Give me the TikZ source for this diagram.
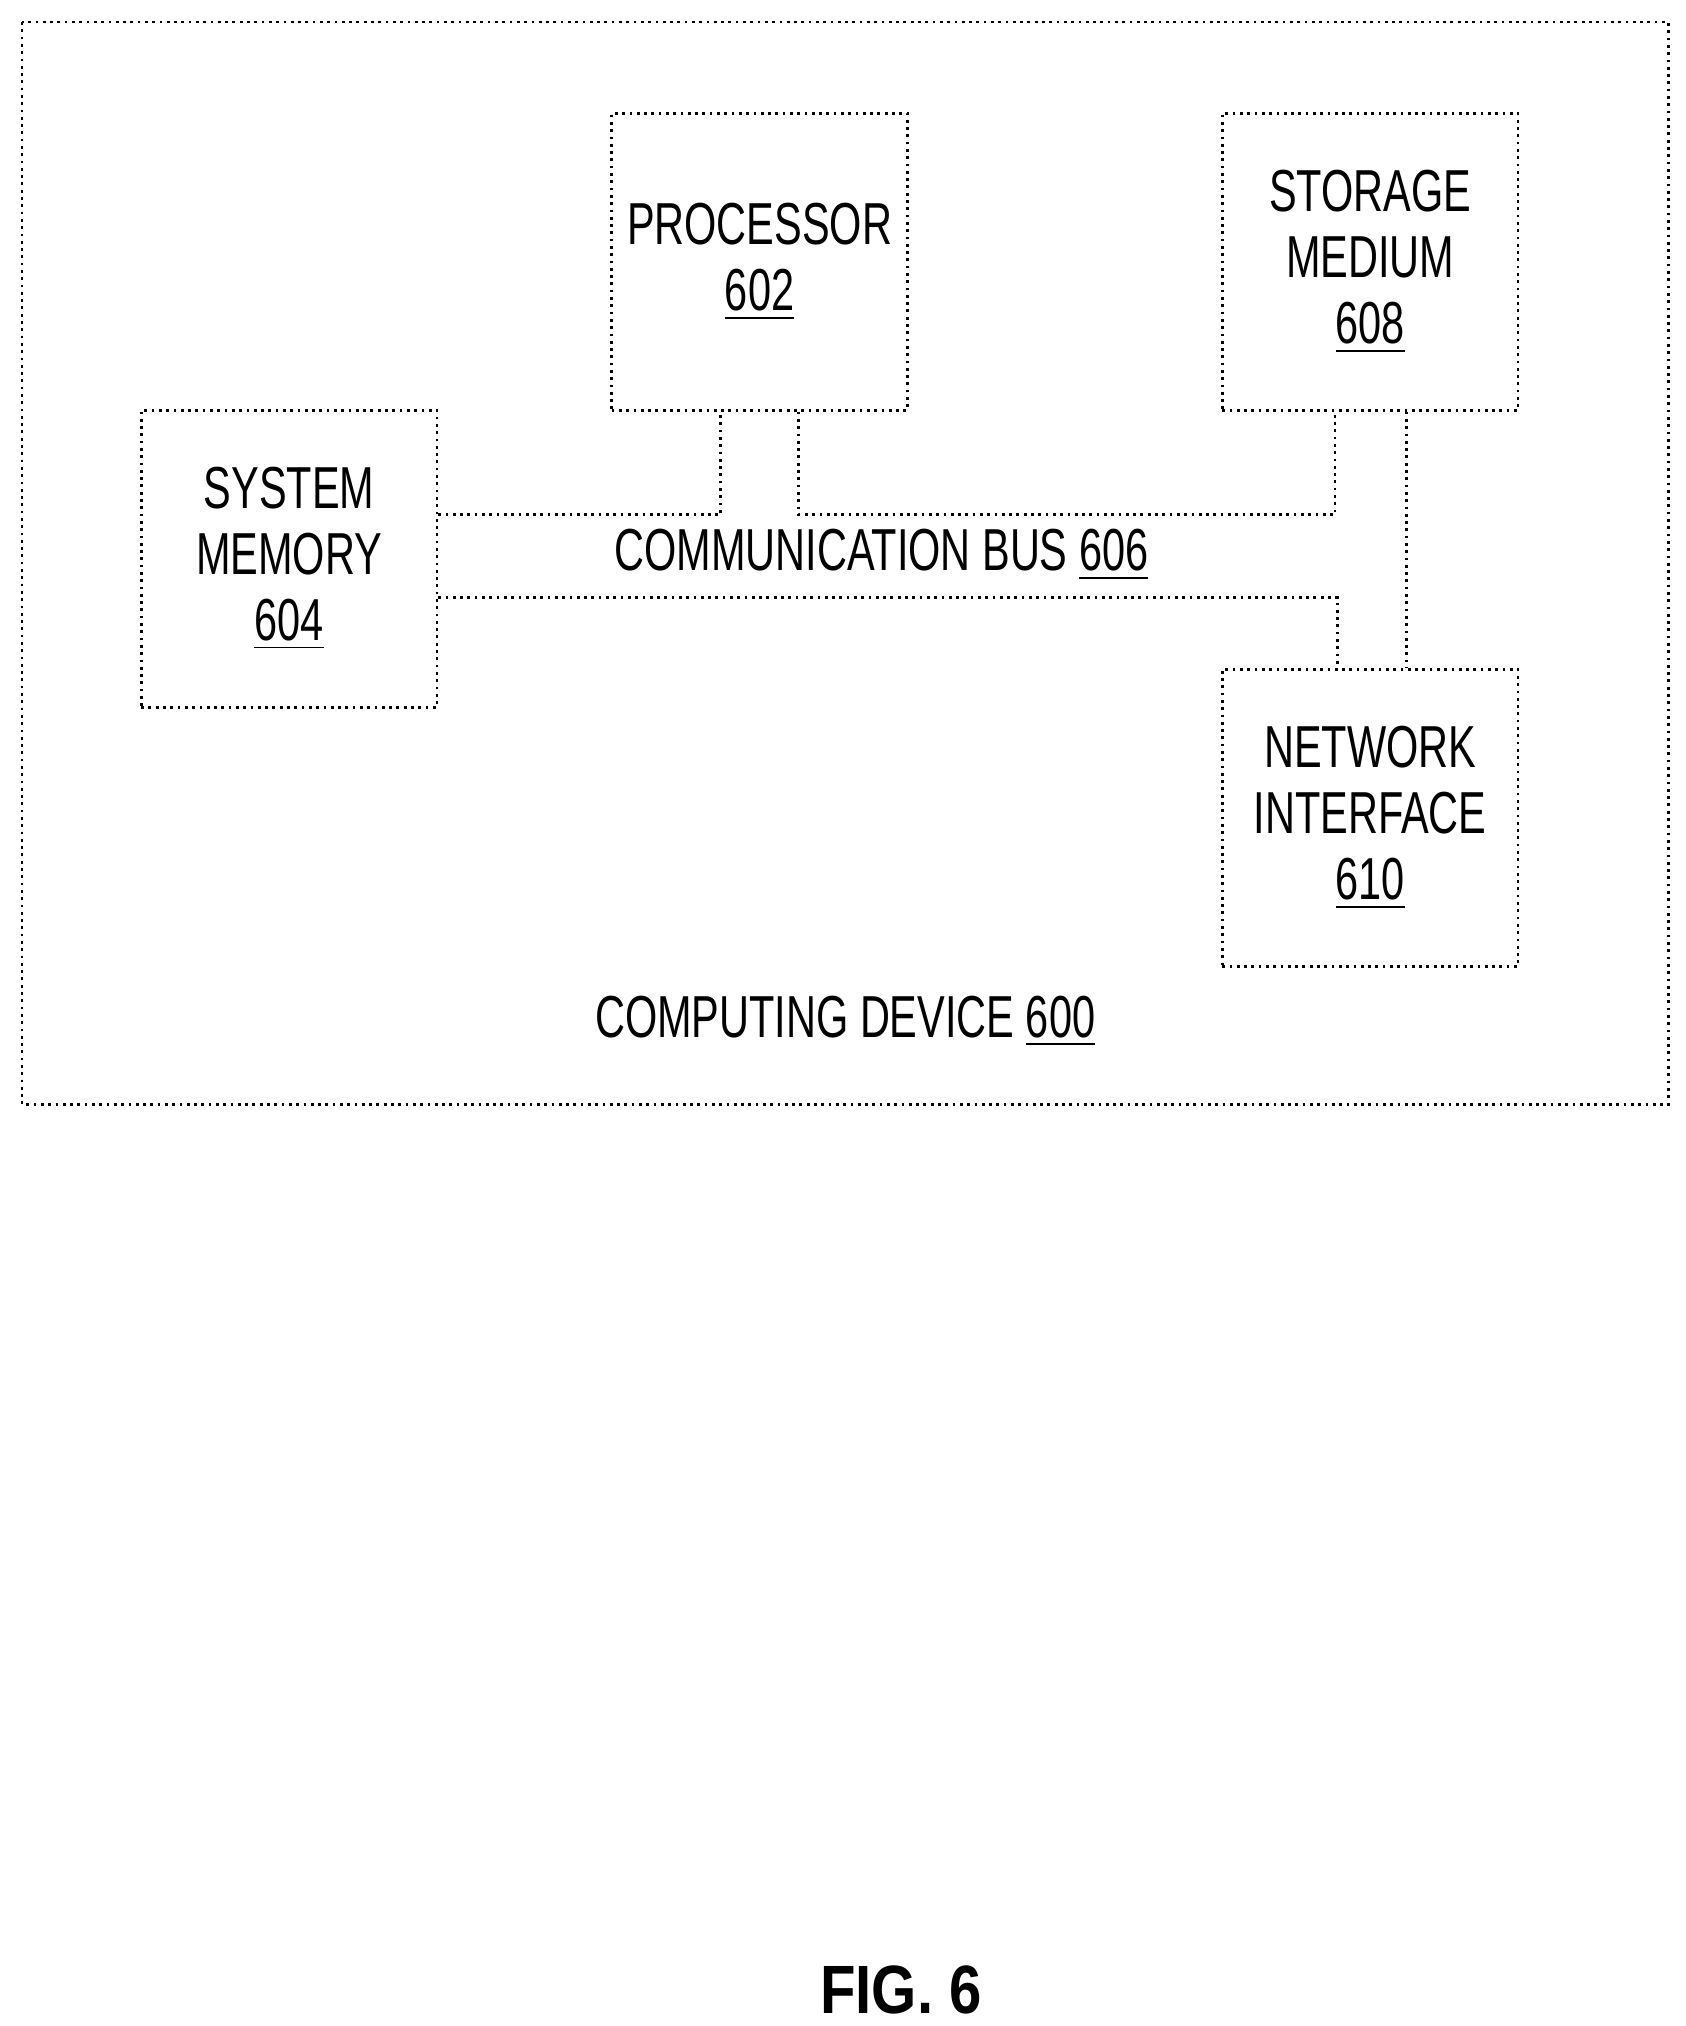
\documentclass[tikz,border=0pt]{standalone}
\usepackage{fontspec}
\setmainfont{Liberation Sans}[FakeStretch=0.7]
\newfontfamily\figfont{Liberation Sans}[FakeStretch=0.85]
\usetikzlibrary{positioning}
\tikzset{
  unit/.style={draw, densely dotted, semithick, inner sep=0pt, minimum width=2.28cm, minimum height=2.29cm, align=center, font=\fontsize{13}{14.5}\selectfont},
  bus/.style={densely dotted, semithick},
}
\begin{document}
\begin{tikzpicture}[x=0.01cm, y=-0.01cm]
      \useasboundingbox (0, 0) rectangle (1300, 1563);
      \begin{scope}
        \draw[bus] (17, 17) rectangle (1287, 852);
        \node[unit] (proc) at (586, 202) {PROCESSOR\\\underline{602}};
        \node[unit] (stor) at (1057, 202) {STORAGE\\MEDIUM\\\underline{608}};
        \node[unit] (mem) at (223, 431) {SYSTEM\\MEMORY\\\underline{604}};
        \node[unit] (net) at (1057, 631) {NETWORK\\INTERFACE\\\underline{610}};
        \draw[bus] (mem.east |- 0, 397) -- (556, 397) -- (proc.south -| 556, 0);
        \draw[bus] (proc.south -| 616, 0) -- (616, 397) -- (1030, 397) -- (stor.south -| 1030, 0);
        \draw[bus] (mem.east |- 0, 461) -- (1032, 461) -- (net.north -| 1032, 0);
        \draw[bus] (stor.south -| 1085, 0) -- (net.north -| 1085, 0);
        \node[font=\fontsize{13}{14}\selectfont] (busl) at (680, 428) {COMMUNICATION BUS \underline{606}};
        \node[font=\fontsize{13}{14}\selectfont] (dev) at (652, 788) {COMPUTING DEVICE \underline{600}};
        \node[font=\figfont\fontsize{15}{18}\selectfont\bfseries] (fig) at (695, 1535) {FIG. 6};
      \end{scope}
\end{tikzpicture}
\end{document}
